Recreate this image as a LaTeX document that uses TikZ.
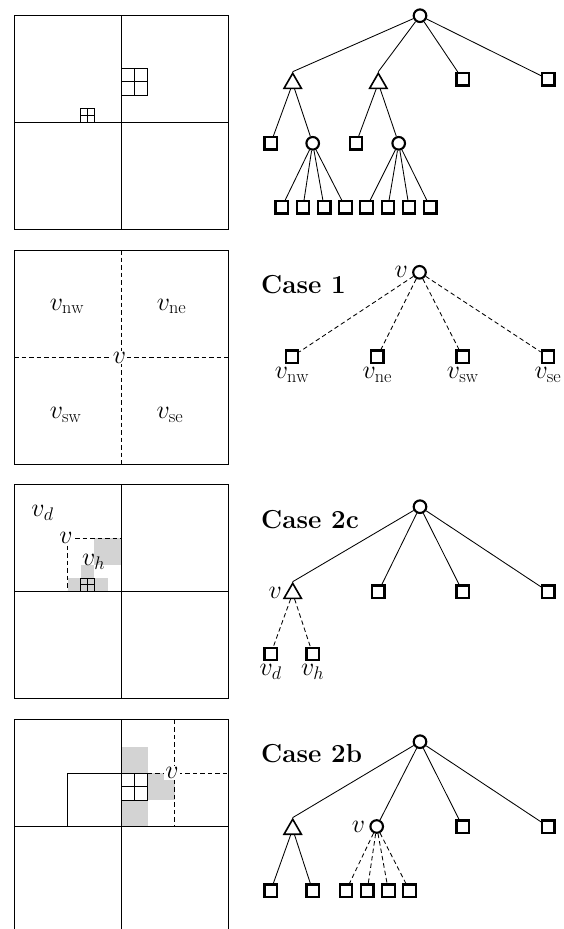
\RequirePackage{fix-cm}
\documentclass[tikz,border=0pt]{standalone}
\usepackage{fontspec}
\usetikzlibrary{shapes.geometric}
\definecolor{cellgray}{RGB}{211,211,211}
\begin{document}
\begin{tikzpicture}[x=1pt,y=-1pt,
  box/.style={line width=1pt},
  dsh/.style={line width=0.85pt, dash pattern=on 4.5pt off 3pt},
  sq/.style={draw, rectangle, line width=2.2pt, minimum size=12.5pt, inner sep=0pt},
  circ/.style={draw, circle, line width=2.1pt, minimum size=12.6pt, inner sep=0pt},
  tri/.style={draw, regular polygon, regular polygon sides=3, line width=1.6pt, minimum size=20pt, inner sep=0pt},
  edge/.style={line width=0.85pt},
  lbl/.style={font=\fontsize{26}{30}\selectfont, inner sep=0pt},
  bl/.style={label={[lbl,label distance=3pt]below:#1}},
  ll/.style={label={[lbl,label distance=4pt]left:#1}},
  wl/.style={lbl, fill=white, inner sep=1pt}
]
\useasboundingbox (0,0) rectangle (564,929);

% ================= Panel 1 =================
\draw[box] (14,15) rectangle (228,229);
\draw[box] (121,15) -- (121,229);
\draw[box] (14,122) -- (228,122);
\draw[box] (121,68.5) rectangle (147.75,95.25);
\draw[box] (134.375,68.5) -- (134.375,95.25) (121,81.875) -- (147.75,81.875);
\draw[box] (80.875,108.625) rectangle (94.25,122);
\draw[box] (87.56,108.625) -- (87.56,122) (80.875,115.31) -- (94.25,115.31);

% Tree 1
\node[circ] (r1) at (420,15.7) {};
\node[tri] (a1) at (292.7,83.3) {};
\node[tri] (b1) at (378.3,83.3) {};
\node[sq] (c1) at (462.7,79.3) {};
\node[sq] (d1) at (548.3,79.3) {};
\node[sq] (a1l) at (270.7,143.3) {};
\node[circ] (a1r) at (312.7,143.3) {};
\node[sq] (b1l) at (356,143.3) {};
\node[circ] (b1r) at (398.7,143.3) {};
\foreach \i in {0,...,7} {
  \pgfmathsetmacro{\xx}{281.7+21.23*\i}
  \node[sq] (l\i) at (\xx,207.3) {};
}
\draw[edge] (r1) -- (a1.corner 1) (r1) -- (b1.corner 1) (r1) -- (c1) (r1) -- (d1)
  (a1) -- (a1l) (a1) -- (a1r) (b1) -- (b1l) (b1) -- (b1r);
\foreach \i in {0,...,3} \draw[edge] (a1r) -- (l\i);
\foreach \i in {4,...,7} \draw[edge] (b1r) -- (l\i);

% ================= Panel 2 =================
\draw[box] (14,250) rectangle (228,464);
\draw[dsh] (121,250) -- (121,464);
\draw[dsh] (14,357) -- (228,357);
\node[lbl, anchor=base] (pnw) at (67,310) {$v_{\mathrm{nw}}$};
\node[lbl, anchor=base] (pne) at (171.5,310) {$v_{\mathrm{ne}}$};
\node[lbl, anchor=base] (psw) at (65.5,418.3) {$v_{\mathrm{sw}}$};
\node[lbl, anchor=base] (pse) at (170,418.3) {$v_{\mathrm{se}}$};
\node[wl, anchor=base] (pv) at (119.5,363.3) {$v$};

% Tree 2
\node[lbl, font=\fontsize{26}{30}\selectfont\bfseries, anchor=base west] (case1) at (261,293.3) {Case 1};
\node[circ, ll={$v$}] (r2) at (419.5,272.3) {};
\node[sq, bl={$v_{\mathrm{nw}}$}] (s2a) at (292,356.7) {};
\node[sq, bl={$v_{\mathrm{ne}}$}] (s2b) at (377.3,356.7) {};
\node[sq, bl={$v_{\mathrm{sw}}$}] (s2c) at (462.7,356.7) {};
\node[sq, bl={$v_{\mathrm{se}}$}] (s2d) at (548,356.7) {};
\draw[dsh] (r2) -- (s2a) (r2) -- (s2b) (r2) -- (s2c) (r2) -- (s2d);

% ================= Panel 3 =================
\fill[cellgray] (94.25,538) rectangle (121,564.75);
\fill[cellgray] (80.875,564.75) rectangle (94.25,578.125);
\fill[cellgray] (67.5,578.125) rectangle (107.625,591.5);
\draw[box] (14,484.5) rectangle (228,698.5);
\draw[box] (121,484.5) -- (121,698.5);
\draw[box] (14,591.5) -- (228,591.5);
\draw[box] (80.875,578.125) rectangle (94.25,591.5);
\draw[box] (87.56,578.125) -- (87.56,591.5) (80.875,584.81) -- (94.25,584.81);
\coordinate (c3e) at (121,538);
\coordinate (c3s) at (67.5,591.5);
\draw[dsh] (67.5,538) -- (c3e);
\draw[dsh] (67.5,538) -- (c3s);
\node[wl] (p3v) at (66,538) {$v$};
\node[lbl, anchor=base] (p3d) at (42.5,516.7) {$v_d$};
\node[lbl, anchor=base] (p3h) at (93.7,565.7) {$v_h$};

% Tree 3
\node[lbl, font=\fontsize{26}{30}\selectfont\bfseries, anchor=base west] (case2c) at (261,528.3) {Case 2c};
\node[circ] (r3) at (420,506.7) {};
\node[tri, ll={$v$}] (t3) at (292.7,593.3) {};
\node[sq] (s3b) at (378.3,591.7) {};
\node[sq] (s3c) at (462.7,591.7) {};
\node[sq] (s3d) at (548.3,591.7) {};
\node[sq, bl={$v_d$}] (s3l) at (270.7,654) {};
\node[sq, bl={$v_h$}] (s3r) at (312.7,654) {};
\draw[edge] (r3) -- (t3.corner 1) (r3) -- (s3b) (r3) -- (s3c) (r3) -- (s3d);
\draw[dsh] (t3) -- (s3l) (t3) -- (s3r);

% ================= Panel 4 =================
\fill[cellgray] (121,746.5) rectangle (147.75,773.25);
\fill[cellgray] (121,800) rectangle (147.75,826.75);
\fill[cellgray] (147.75,773.25) rectangle (174.5,800);
\draw[box] (14,929) -- (14,719.75) -- (228,719.75) -- (228,929);
\draw[box] (121,719.75) -- (121,929);
\draw[box] (14,826.75) -- (228,826.75);
\draw[box] (67.5,826.75) -- (67.5,773.25) -- (121,773.25);
\draw[box] (121,773.25) rectangle (147.75,800);
\draw[box] (134.375,773.25) -- (134.375,800) (121,786.625) -- (147.75,786.625);
\coordinate (c4n) at (174.5,719.75);
\coordinate (c4s) at (174.5,826.75);
\coordinate (c4w) at (147.75,773.25);
\coordinate (c4e) at (228,773.25);
\draw[dsh] (c4n) -- (c4s);
\draw[dsh] (c4w) -- (c4e);
\node[wl] (p4v) at (172,773) {$v$};

% Tree 4
\node[lbl, font=\fontsize{26}{30}\selectfont\bfseries, anchor=base west] (case2b) at (261,762.7) {Case 2b};
\node[circ] (r4) at (420,741.7) {};
\node[tri] (t4) at (292.7,829.2) {};
\node[circ, ll={$v$}] (v4) at (376.7,826.5) {};
\node[sq] (s4c) at (462.7,826.7) {};
\node[sq] (s4d) at (548.3,826.7) {};
\node[sq] (t4l) at (270.7,890.7) {};
\node[sq] (t4r) at (312.7,890.7) {};
\foreach \i in {0,...,3} {
  \pgfmathsetmacro{\xx}{346+21.2*\i}
  \node[sq] (m\i) at (\xx,890.7) {};
}
\draw[edge] (r4) -- (t4.corner 1) (r4) -- (v4) (r4) -- (s4c) (r4) -- (s4d)
  (t4) -- (t4l) (t4) -- (t4r);
\foreach \i in {0,...,3} \draw[dsh] (v4) -- (m\i);
\end{tikzpicture}
\end{document}
